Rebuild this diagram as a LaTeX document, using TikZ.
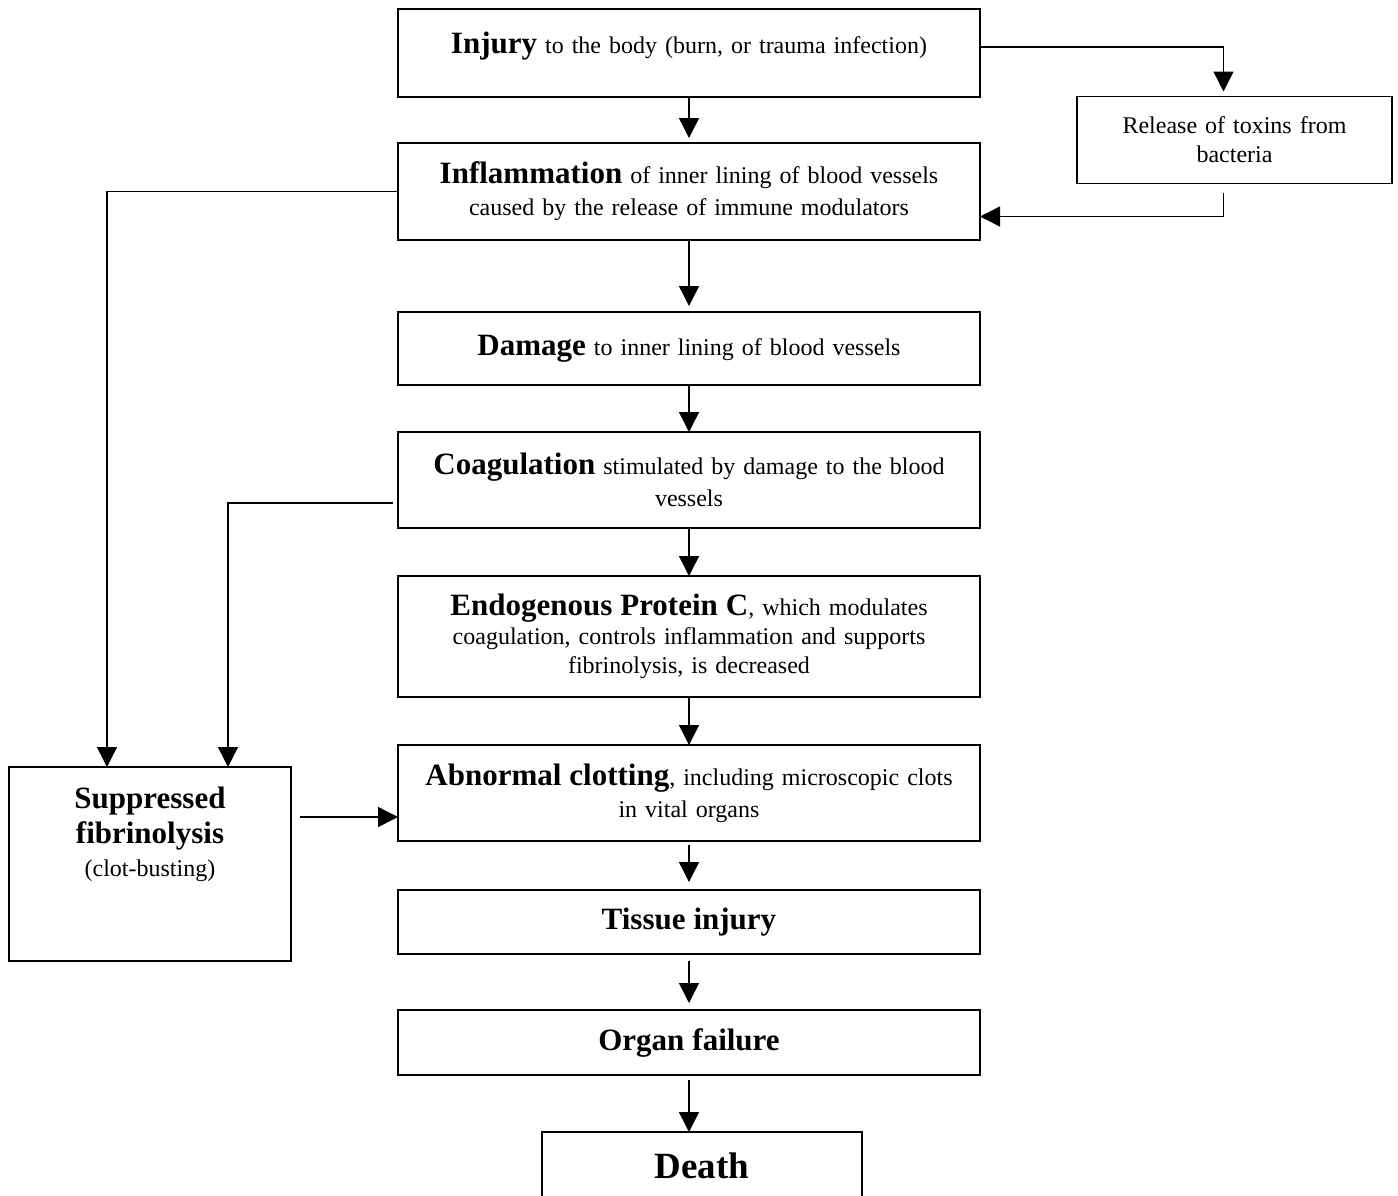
\documentclass[tikz,border=0pt]{standalone}
\usepackage{fontspec}
\setmainfont{Liberation Serif}
\usetikzlibrary{arrows.meta}
\usetikzlibrary{positioning}

\newcommand{\bighead}[1]{{\fontsize{31}{29}\selectfont\bfseries #1}}

\tikzset{
  stage/.style={draw, line width=1.8pt, minimum width=582pt, text width=560pt,
    align=center, inner sep=0pt, outer sep=0pt, font=\fontsize{24}{29}\selectfont},
  arr/.style={line width=1.4pt, -{Triangle[length=20pt,width=20pt]}}
}

\begin{document}
\begin{tikzpicture}[x=1pt, y=-1pt]
  \useasboundingbox (0,0) rectangle (1398,1195);

  \node [stage, minimum height=88pt] (inj) at (689,53)
        {\bighead{Injury} to the body (burn, or trauma infection)\\[-9pt]\mbox{}};
  \node [stage, minimum width=315pt, text width=295pt, minimum height=87pt]
        (rel) [right=97pt of inj, yshift=-87pt] {Release of toxins from\\ bacteria};
  \node [stage, minimum height=97pt] (infl) [below=46pt of inj]
        {\bighead{Inflammation} of inner lining of blood vessels\\[3pt] caused by the release of immune modulators};
  \node [stage, minimum height=73pt] (dam) [below=72pt of infl]
        {\bighead{Damage} to inner lining of blood vessels};
  \node [stage, minimum height=96pt] (coag) [below=47pt of dam]
        {\bighead{Coagulation} stimulated by damage to the blood\\[3pt] vessels};
  \node [stage, minimum height=121pt] (endo) [below=48pt of coag]
        {\bighead{Endogenous Protein C}, which modulates\\ coagulation, controls inflammation and supports\\ fibrinolysis, is decreased};
  \node [stage, minimum height=96pt] (abn) [below=48pt of endo]
        {\bighead{Abnormal clotting}, including microscopic clots\\[3pt] in vital organs};
  \node [stage, minimum width=282pt, text width=262pt, minimum height=194pt]
        (supp) [left=107pt of abn, yshift=-71pt]
        {\bighead{Suppressed}\\[6pt] \bighead{fibrinolysis}\\[4pt] (clot-busting)\\[35pt]\mbox{}};
  \node [stage, minimum height=64pt] (tis) [below=49pt of abn] {\bighead{Tissue injury}};
  \node [stage, minimum height=65pt] (org) [below=56pt of tis] {\bighead{Organ failure}};
  \node [stage, minimum width=320pt, text width=300pt, minimum height=68pt]
        (death) [below=57pt of org, xshift=13pt] {{\fontsize{37}{40}\selectfont\bfseries Death}};

  \path[arr]
    (inj) edge [shorten >=5pt] (infl)
    (infl) edge [shorten >=6pt] (dam)
    (dam) edge (coag)
    (coag) edge (endo)
    (endo) edge (abn)
    (abn) edge [shorten <=4pt, shorten >=8pt] (tis)
    (tis) edge [shorten <=7pt, shorten >=7pt] (org)
    (org) edge [shorten <=5pt] (org.south |- death.north)
    ;

  \draw[arr, shorten >=5pt] ([yshift=6pt]inj.east) -| ([xshift=-11pt]rel.north);
  \draw[arr] ([xshift=-11pt,yshift=-9pt]rel.south) |- ([yshift=-25pt]infl.east);
  \draw[arr] (infl.west) -| ([xshift=98pt]supp.north west);
  \draw[arr] ([xshift=-5pt,yshift=-23pt]coag.west) -| ([xshift=-63pt]supp.north east);
  \draw[arr] ([xshift=9pt,yshift=47pt]supp.east) -- ([yshift=-24pt]abn.west);
\end{tikzpicture}
\end{document}
